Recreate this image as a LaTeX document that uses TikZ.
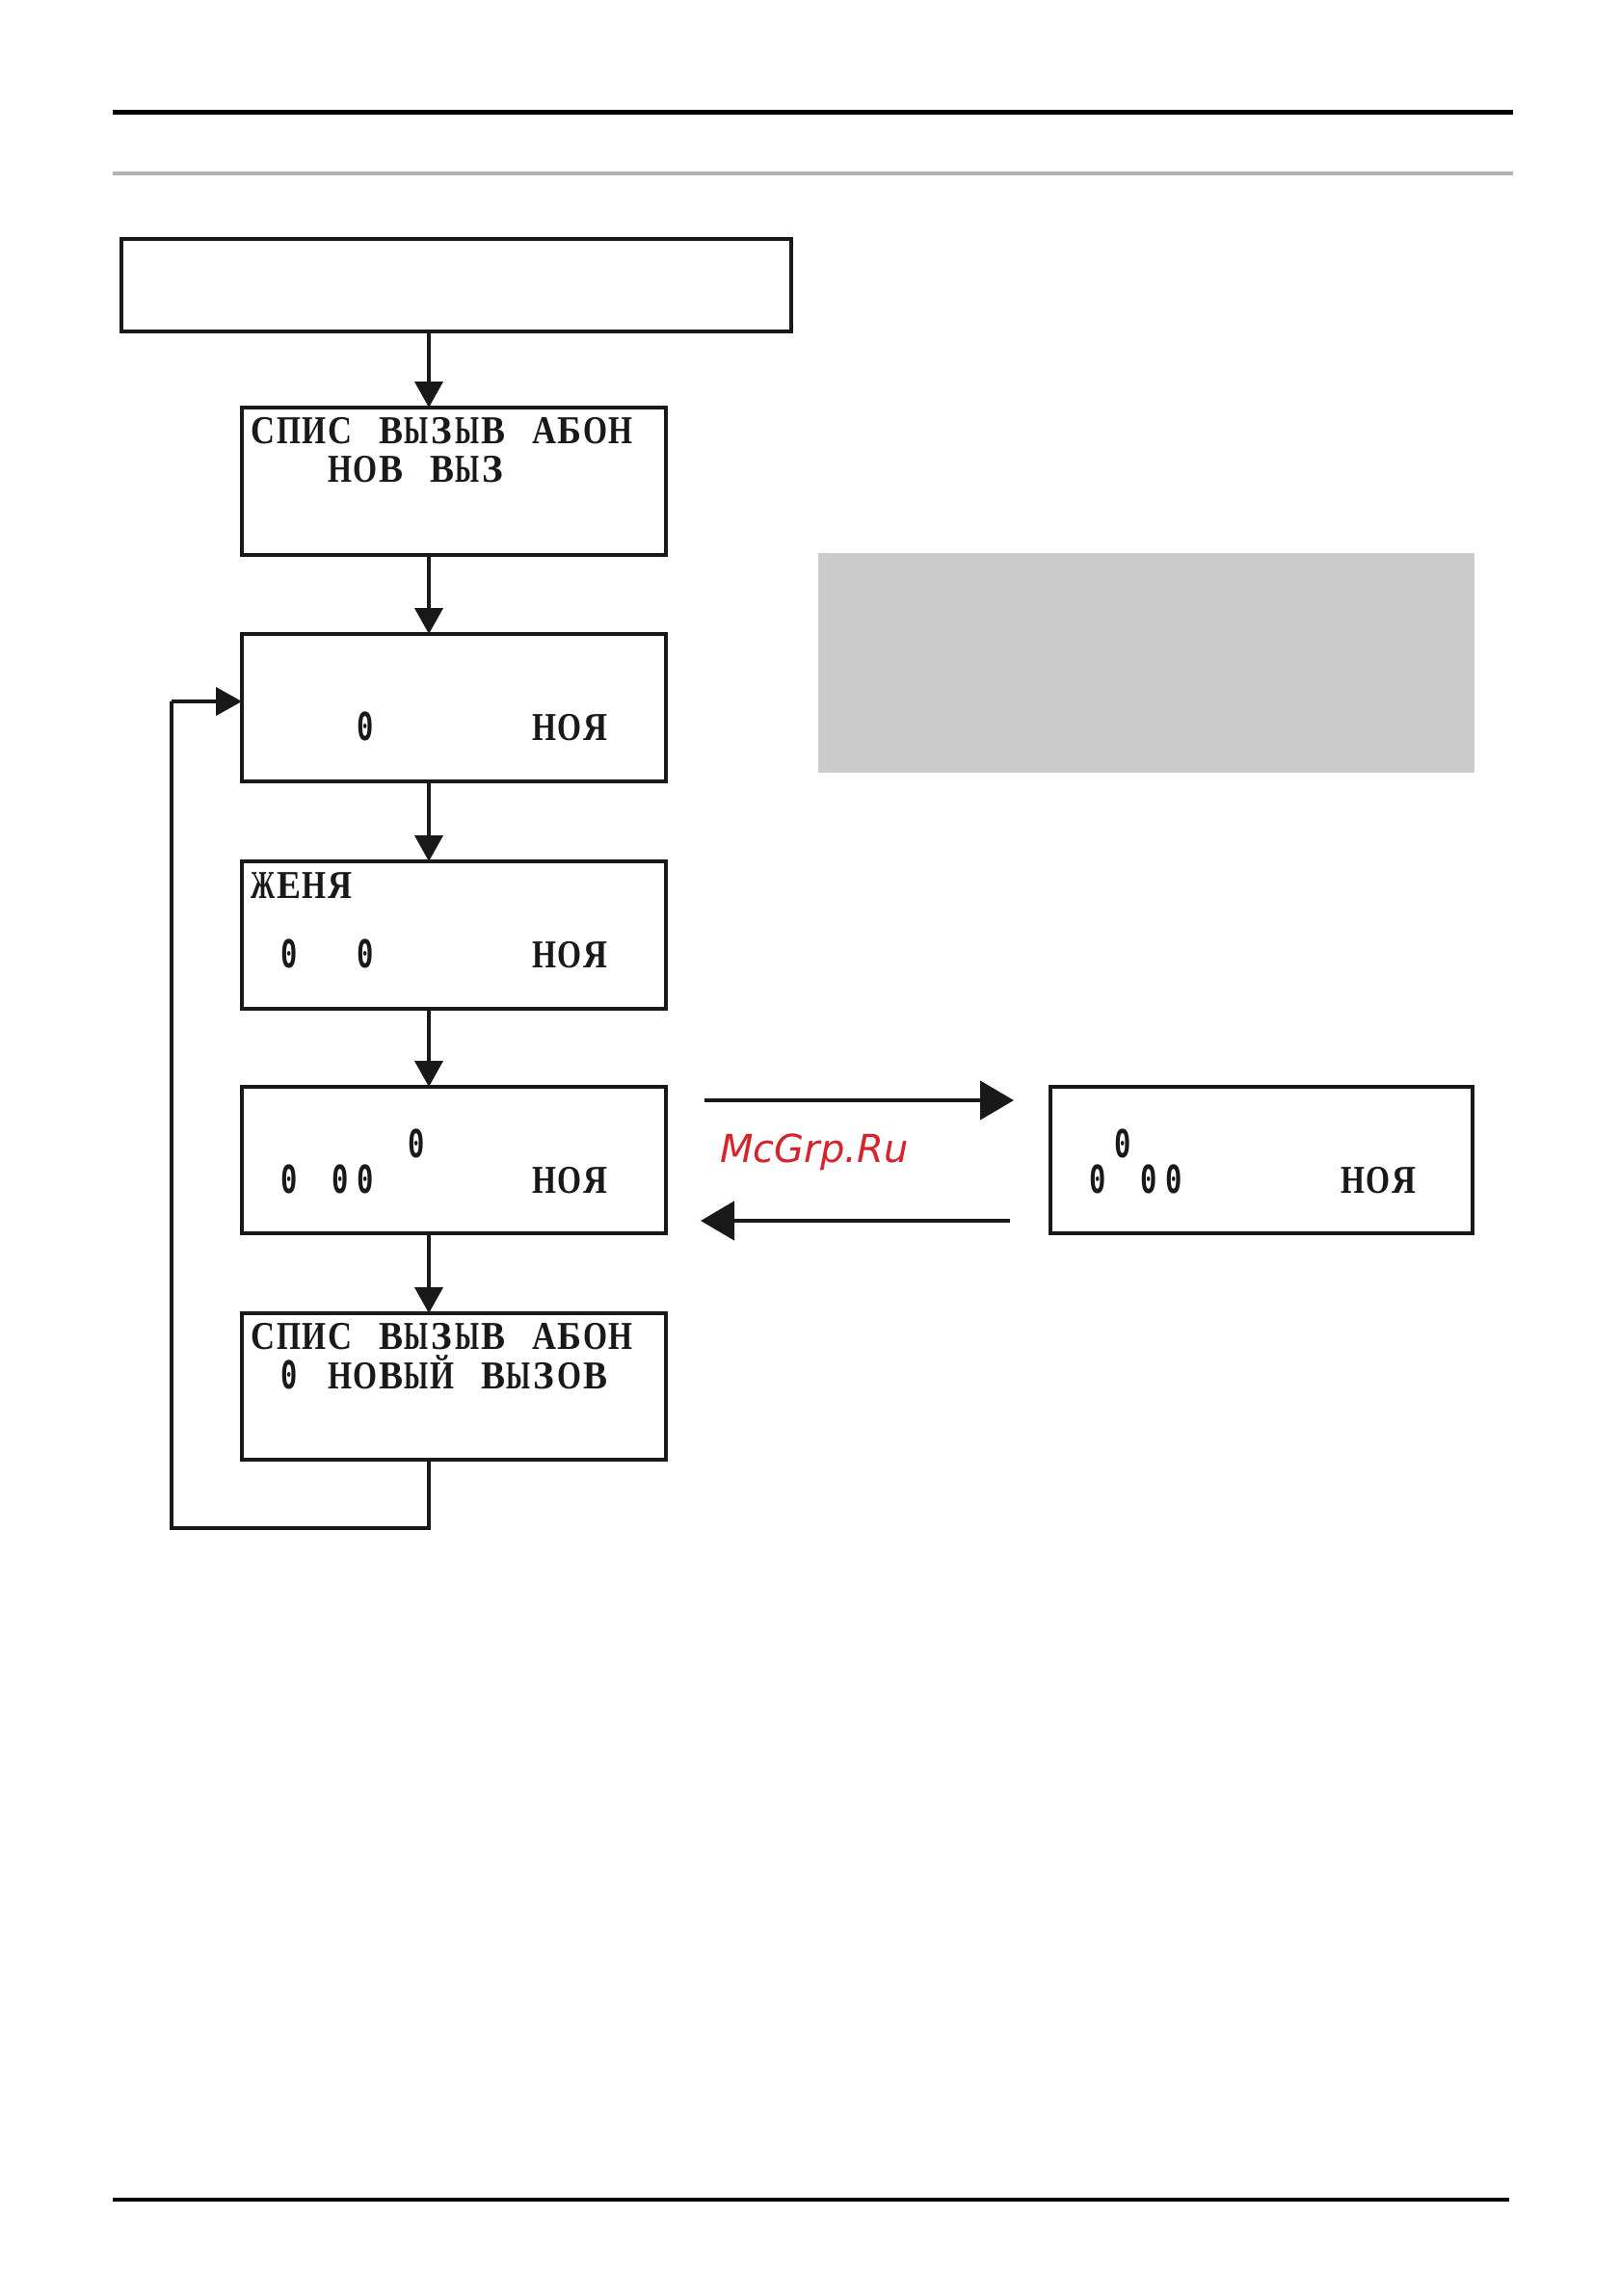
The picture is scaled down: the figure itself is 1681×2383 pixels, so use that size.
\documentclass[tikz,border=0pt]{standalone}
\usepackage{fontspec}
\usepackage{graphicx}
\usetikzlibrary{arrows.meta}
\newfontfamily\lcdletters{Liberation Serif}
\newfontfamily\lcddigits{DejaVu Sans Mono}
\newfontfamily\wmfont{DejaVu Sans}
\definecolor{rulegray}{HTML}{B3B3B3}
\definecolor{panelgray}{HTML}{CBCBCB}
\definecolor{wmred}{HTML}{D6242B}
% monospaced LCD cells built from a serif font
\newsavebox\lcdcellbox
\newcommand\lcdcell[1]{%
  \ifx0#1%
    \sbox\lcdcellbox{\lcddigits\bfseries\fontsize{40}{40}\selectfont 0}%
    \makebox[26.5pt][c]{\resizebox{0.72\wd\lcdcellbox}{\height}{\usebox\lcdcellbox}}%
  \else
    \sbox\lcdcellbox{\lcdletters\bfseries\fontsize{41}{41}\selectfont #1}%
    \makebox[26.5pt][c]{\ifdim\wd\lcdcellbox>25pt\relax
      \resizebox{25pt}{\height}{\usebox\lcdcellbox}\else\usebox\lcdcellbox\fi}%
  \fi}
\def\lcdloop#1{\ifx#1\relax\else\lcdcell{#1}\expandafter\lcdloop\fi}
\newcommand\lcd[1]{\lcdloop#1\relax}
\tikzset{
  lcdbox/.style={draw=black!90, line width=3.5pt, rectangle, anchor=north west, inner sep=0pt, outer sep=0pt},
  lcdtext/.style={anchor=base west, inner sep=0pt, outer sep=0pt, text=black!90},
  varr/.style={draw=black!90, line width=4pt, -{Triangle[length=27pt,width=29pt]}},
  harr/.style={draw=black!90, line width=4.5pt, -{Triangle[length=35pt,width=40pt]}},
  loopline/.style={draw=black!90, line width=4pt}
}
\begin{document}
\begin{tikzpicture}[x=1pt,y=-1pt]
\useasboundingbox (0,0) rectangle (1681,2383);
\fill[white] (0,0) rectangle (1681,2383);
% header rules
\draw[line width=5pt, black] (117,116) -- (1570,116);
\draw[line width=4.5pt, rulegray] (117,180) -- (1570,180);
% footer rule
\draw[line width=4.5pt, black] (117,2283) -- (1566,2283);
% gray panel
\node[fill=panelgray, draw=none, anchor=north west, minimum width=681pt, minimum height=228pt, inner sep=0pt] (panel) at (849,574) {};
% boxes
\node[lcdbox, minimum width=695pt, minimum height=96pt] (b0) at (126,248) {};
\node[lcdbox, minimum width=440pt, minimum height=153pt] (b1) at (251,423) {};
\node[lcdbox, minimum width=440pt, minimum height=153pt] (b2) at (251,658) {};
\node[lcdbox, minimum width=440pt, minimum height=153pt] (b3) at (251,894) {};
\node[lcdbox, minimum width=440pt, minimum height=152pt] (b4) at (251,1128) {};
\node[lcdbox, minimum width=440pt, minimum height=152pt] (b5) at (251,1363) {};
\node[lcdbox, minimum width=438pt, minimum height=152pt] (b6) at (1090,1128) {};
% texts
\node[lcdtext] (t1a) at (260,460) {\lcd{СПИС~ВЫЗЫВ~АБОН}};
\node[lcdtext] (t1b) at (260,500) {\lcd{~~~НОВ~ВЫЗ}};
\node[lcdtext] (t2a) at (260,768) {\lcd{~~~~0~~~~~~НОЯ}};
\node[lcdtext] (t3a) at (260,932) {\lcd{ЖЕНЯ}};
\node[lcdtext] (t3b) at (260,1004) {\lcd{~0~~0~~~~~~НОЯ}};
\node[lcdtext] (t4a) at (260,1201) {\lcd{~~~~~~0}};
\node[lcdtext] (t4b) at (260,1238) {\lcd{~0~00~~~~~~НОЯ}};
\node[lcdtext] (t5a) at (260,1400) {\lcd{СПИС~ВЫЗЫВ~АБОН}};
\node[lcdtext] (t5b) at (260,1441) {\lcd{~0~НОВЫЙ~ВЫЗОВ}};
\node[lcdtext] (t6a) at (1099,1201) {\lcd{~~0}};
\node[lcdtext] (t6b) at (1099,1238) {\lcd{~0~00~~~~~~НОЯ}};
% watermark
\node[anchor=base west, inner sep=0pt, text=wmred, font=\wmfont\itshape\fontsize{40}{40}\selectfont] (wm) at (747,1206) {McGrp.Ru};
% vertical connectors
\coordinate (ax) at (445,0);
\draw[varr] (b0.south -| ax) -- (b1.north -| ax);
\draw[varr] (b1.south -| ax) -- (b2.north -| ax);
\draw[varr] (b2.south -| ax) -- (b3.north -| ax);
\draw[varr] (b3.south -| ax) -- (b4.north -| ax);
\draw[varr] (b4.south -| ax) -- (b5.north -| ax);
% loop back
\coordinate (lp) at (178,1586);
\coordinate (le) at (178,728);
\draw[loopline] (b5.south -| ax) |- (lp) -- (le);
\draw[varr] (le) -- (b2.west |- le);
% horizontal connectors
\coordinate (r1) at (731,1142);
\coordinate (l1) at (1048,1267);
\draw[harr] (r1) -- ([xshift=-38pt]b6.west |- r1);
\draw[harr] (l1) -- ([xshift=36pt]b4.east |- l1);
\end{tikzpicture}
\end{document}
